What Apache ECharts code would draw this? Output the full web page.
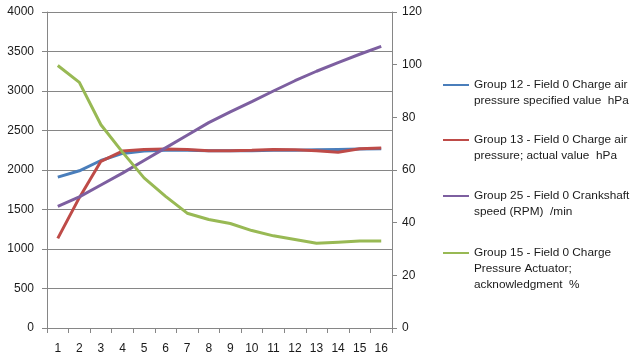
<!DOCTYPE html>
<html>
<head>
<meta charset="utf-8">
<script src="https://cdn.jsdelivr.net/npm/echarts@6/dist/echarts.min.js"></script>
<style>html,body{margin:0;padding:0;background:#fff}#c{width:637px;height:362px}</style>
</head>
<body>
<div id="c"></div>
<script>
var categories = ['1','2','3','4','5','6','7','8','9','10','11','12','13','14','15','16'];
var names = [
  'Group 12 - Field 0 Charge air\npressure specified value  hPa',
  'Group 13 - Field 0 Charge air\npressure; actual value  hPa',
  'Group 25 - Field 0 Crankshaft\nspeed (RPM)  /min',
  'Group 15 - Field 0 Charge\nPressure Actuator;\nacknowledgment  %'
];
var specifiedPressure = [1910, 1990, 2120, 2210, 2240, 2250, 2250, 2245, 2245, 2245, 2250, 2250, 2255, 2260, 2265, 2270];
var actualPressure    = [1135, 1650, 2110, 2240, 2260, 2265, 2260, 2245, 2245, 2250, 2260, 2255, 2245, 2225, 2270, 2280];
var crankshaftSpeed   = [1540, 1660, 1810, 1960, 2120, 2280, 2440, 2600, 2735, 2865, 3000, 3130, 3250, 3360, 3465, 3565];
var actuatorPct       = [99.7, 93.3, 77.2, 66.8, 57, 50, 43.6, 41.2, 39.7, 37, 35, 33.6, 32.2, 32.6, 33, 33];
var leftTicks = {min: 0, max: 4000, interval: 500};
var rightTicks = {min: 0, max: 120, interval: 20};

var colors = ['#4a7ebb', '#be4b48', '#7d5fa0', '#98b954'];
var FONT = 'Liberation Sans';
var gray = '#868686';

function iconPath(h) {
  return 'path://M0,0h0.01v0.01h-0.01zM0,7h26v2h-26zM0,' + (h - 0.01) + 'h0.01v0.01h-0.01z';
}
var legendTops = [72, 127, 183, 240];
var legends = names.map(function (n, i) {
  var lines = n.split('\n').length;
  var h = lines * 16;
  return {
    data: [n],
    left: 438, top: legendTops[i],
    orient: 'vertical',
    itemWidth: 26, itemHeight: h,
    icon: iconPath(h),
    selectedMode: false,
    textStyle: {fontFamily: FONT, fontSize: 11.8, color: '#1a1a1a', lineHeight: 16}
  };
});

var chart = echarts.init(document.getElementById('c'), null, {renderer: 'canvas'});
chart.setOption({
  animation: false,
  color: colors,
  grid: {left: 47, right: 245, top: 12, bottom: 34},
  legend: legends,
  xAxis: {
    type: 'category', data: categories, boundaryGap: true,
    axisLine: {lineStyle: {color: gray}},
    axisTick: {show: true, length: 5, lineStyle: {color: gray}},
    axisLabel: {margin: 15, fontFamily: FONT, fontSize: 12, color: '#1a1a1a'}
  },
  yAxis: [
    {
      type: 'value', min: leftTicks.min, max: leftTicks.max, interval: leftTicks.interval,
      axisLine: {show: true, lineStyle: {color: gray}},
      axisTick: {show: true, length: 5, lineStyle: {color: gray}},
      splitLine: {lineStyle: {color: gray, width: 1}},
      axisLabel: {margin: 13, fontFamily: FONT, fontSize: 12, color: '#1a1a1a',
        formatter: function (v) { return String(v); }}
    },
    {
      type: 'value', min: rightTicks.min, max: rightTicks.max, interval: rightTicks.interval,
      position: 'right',
      axisLine: {show: true, lineStyle: {color: gray}},
      axisTick: {show: true, length: 5, lineStyle: {color: gray}},
      splitLine: {show: false},
      axisLabel: {margin: 10, fontFamily: FONT, fontSize: 12, color: '#1a1a1a',
        formatter: function (v) { return String(v); }}
    }
  ],
  series: [
    {name: names[0], type: 'line', yAxisIndex: 0, data: specifiedPressure, symbol: 'none', lineStyle: {width: 3}},
    {name: names[1], type: 'line', yAxisIndex: 0, data: actualPressure, symbol: 'none', lineStyle: {width: 3}},
    {name: names[2], type: 'line', yAxisIndex: 0, data: crankshaftSpeed, symbol: 'none', lineStyle: {width: 3}},
    {name: names[3], type: 'line', yAxisIndex: 1, data: actuatorPct, symbol: 'none', lineStyle: {width: 3}}
  ]
});
</script>
</body>
</html>
